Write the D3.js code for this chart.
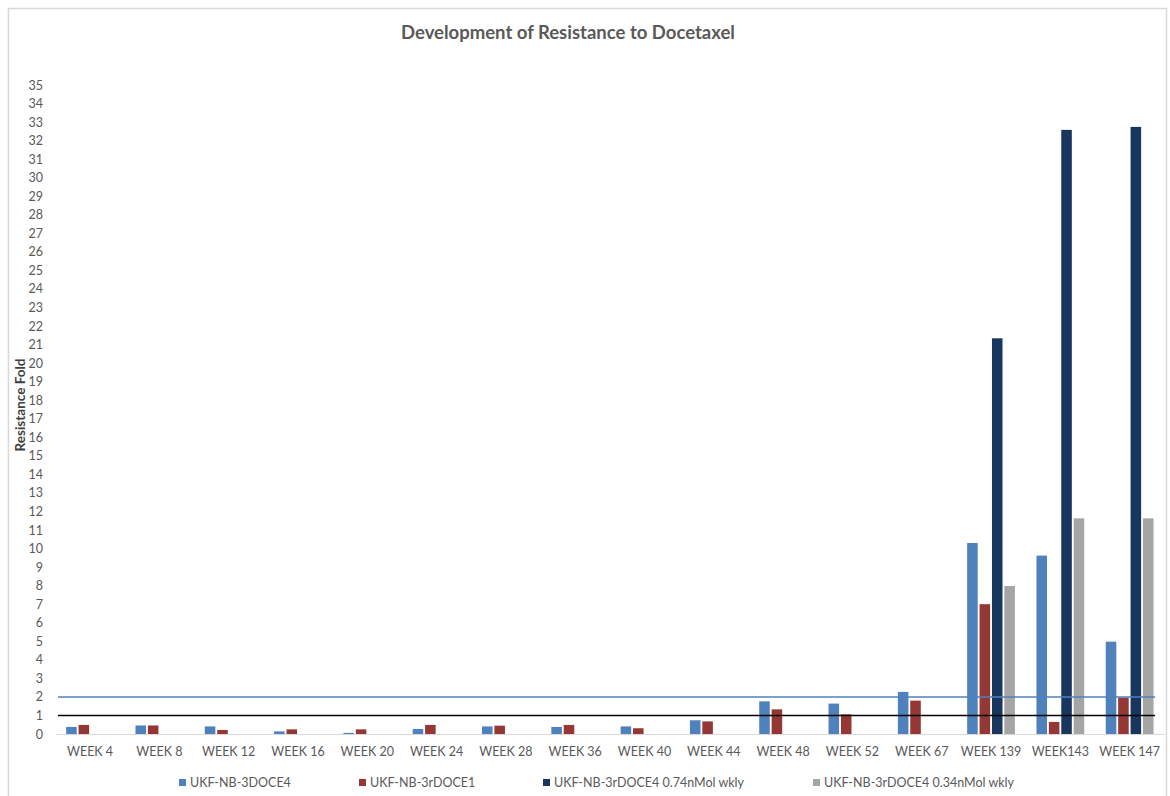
<!DOCTYPE html>
<html>
<head>
<meta charset="utf-8">
<script src="https://cdn.jsdelivr.net/npm/d3@7"></script>
<style>
  html, body { margin: 0; padding: 0; background: #fff; }
  svg { display: block; }
  text { font-family: Lato, "Open Sans", sans-serif; }
</style>
</head>
<body>
<svg id="chart" width="1170" height="796"></svg>
<script>
// Categories (x axis)
const weeks = ["WEEK 4", "WEEK 8", "WEEK 12", "WEEK 16", "WEEK 20", "WEEK 24", "WEEK 28",
  "WEEK 36", "WEEK 40", "WEEK 44", "WEEK 48", "WEEK 52", "WEEK 67", "WEEK 139", "WEEK143", "WEEK 147"];

// Series names
const seriesNames = ["UKF-NB-3DOCE4", "UKF-NB-3rDOCE1", "UKF-NB-3rDOCE4 0.74nMol wkly", "UKF-NB-3rDOCE4 0.34nMol wkly"];

// Series values (null = not measured)
const doce4 = [0.38, 0.46, 0.41, 0.14, 0.06, 0.27, 0.41, 0.38, 0.41, 0.74, 1.76, 1.64, 2.27, 10.3, 9.62, 4.98];
const rdoce1 = [0.49, 0.46, 0.22, 0.25, 0.25, 0.49, 0.45, 0.49, 0.31, 0.68, 1.33, 1.06, 1.8, 7.0, 0.65, 1.96];
const rdoce4_074 = [null, null, null, null, null, null, null, null, null, null, null, null, null, 21.34, 32.58, 32.74];
const rdoce4_034 = [null, null, null, null, null, null, null, null, null, null, null, null, null, 7.98, 11.63, 11.63];

// Reference thresholds
const thresholds = [2, 1];

// Y tick labels
const yTicks = d3.range(0, 36);

const colors = ["#4F81BD", "#953735", "#17375E", "#A5A5A5"];
const thresholdColors = ["#4F81BD", "#000000"];

const seriesValues = [doce4, rdoce1, rdoce4_074, rdoce4_034];

const svg = d3.select("#chart");

// Chart frame
svg.append("rect")
  .attr("x", 8.5).attr("y", 8.5)
  .attr("width", 1158).attr("height", 800)
  .attr("fill", "#fff")
  .attr("stroke", "#D9D9D9")
  .attr("stroke-width", 1.5);

const plot = { left: 55.4, right: 1164.3, top: 85, bottom: 734 };

const x0 = d3.scaleBand().domain(weeks).range([plot.left, plot.right]).padding(0);
const groupW = 49;
const x1 = d3.scaleBand().domain(d3.range(seriesNames.length)).range([0, groupW]).paddingInner(0.15).paddingOuter(0.05);
const y = d3.scaleLinear().domain([0, 35]).range([plot.bottom, plot.top]);

// Title
svg.append("text")
  .attr("x", 568).attr("y", 39)
  .attr("text-anchor", "middle")
  .attr("font-size", 18.5)
  .attr("font-weight", "bold")
  .attr("fill", "#595959")
  .text("Development of Resistance to Docetaxel");

// Y axis (labels only)
const yAxis = d3.axisLeft(y).tickValues(yTicks).tickSize(0).tickPadding(0).tickFormat(d3.format("d"));
const yg = svg.append("g").attr("transform", `translate(43,0)`).call(yAxis);
yg.select(".domain").remove();
yg.selectAll("text").attr("font-size", 12.5).attr("fill", "#595959").attr("font-family", "Lato, sans-serif");

// Y axis title
svg.append("text")
  .attr("transform", "translate(25,405) rotate(-90)")
  .attr("text-anchor", "middle")
  .attr("font-size", 13.5)
  .attr("font-weight", "bold")
  .attr("fill", "#404040")
  .text("Resistance Fold");

// Bars
const groups = svg.append("g").selectAll("g")
  .data(weeks)
  .join("g")
  .attr("transform", d => `translate(${x0(d) + (x0.bandwidth() - groupW) / 2},0)`);

groups.selectAll("rect")
  .data((d, i) => seriesValues.map((vals, s) => ({ s, v: vals[i] })).filter(e => e.v != null))
  .join("rect")
  .attr("x", e => x1(e.s))
  .attr("width", x1.bandwidth())
  .attr("y", e => y(e.v))
  .attr("height", e => y(0) - y(e.v))
  .attr("fill", e => colors[e.s]);

// X axis baseline and labels
const xAxis = d3.axisBottom(x0).tickSize(0).tickPadding(13);
const xg = svg.append("g").attr("transform", `translate(0,${plot.bottom})`).call(xAxis);
xg.select(".domain").attr("stroke", "#D9D9D9").attr("stroke-width", 1.2);
xg.selectAll("text").attr("font-size", 12.5).attr("fill", "#595959").attr("font-family", "Lato, sans-serif");

// Threshold lines
svg.append("g").selectAll("line")
  .data(thresholds)
  .join("line")
  .attr("x1", 58).attr("x2", 1155)
  .attr("y1", d => y(d)).attr("y2", d => y(d))
  .attr("stroke", (d, i) => thresholdColors[i])
  .attr("stroke-width", 1.5);

// Legend
const legendX = [179, 359, 543, 813];
const legend = svg.append("g").selectAll("g")
  .data(seriesNames)
  .join("g")
  .attr("transform", (d, i) => `translate(${legendX[i]},783)`);
legend.append("rect")
  .attr("x", 0).attr("y", -4).attr("width", 7).attr("height", 7)
  .attr("fill", (d, i) => colors[i]);
legend.append("text")
  .attr("x", 11).attr("y", 0)
  .attr("dy", "0.35em")
  .attr("font-size", 12.5)
  .attr("fill", "#595959")
  .text(d => d);
</script>
</body>
</html>
